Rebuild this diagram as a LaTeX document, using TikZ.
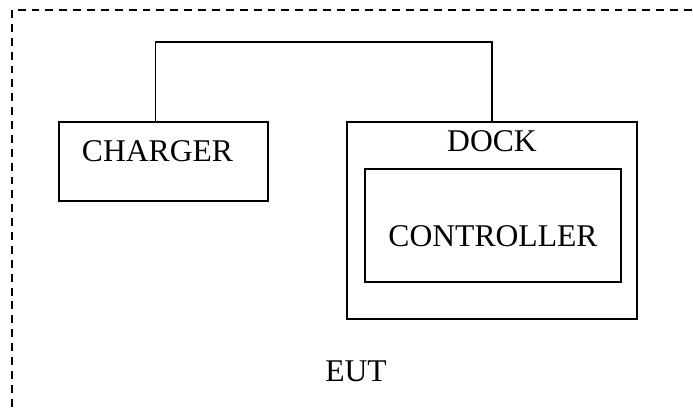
\documentclass[tikz,border=0pt]{standalone}
\usepackage{fontspec}
\setmainfont{Liberation Serif}
\usetikzlibrary{positioning}
\tikzset{unit/.style={draw=black,line width=.8pt,inner sep=0pt},tag/.style={font=\fontsize{18}{21}\selectfont,inner sep=0pt},wire/.style={draw=black,line width=.8pt},frame/.style={draw=black,line width=.8pt,dash pattern=on 4.5pt off 3.4pt}}

\begin{document}
\begin{tikzpicture}[x=.02cm,y=-.02cm]
        \useasboundingbox (0,0) rectangle (693,407);
        \clip (0,0) rectangle (693,407);
        \draw[frame] (12,10) rectangle (720,440);
        \node[unit,minimum width=209*.02cm,minimum height=79*.02cm] (charger) at (163.5,161.5){};
        \node[tag] (chargertext) at (157.5,151.5){CHARGER};
        \node[unit,minimum width=290*.02cm,minimum height=197*.02cm] (dock) at (492,220.5){};
        \node[tag] (docktext) at (492,141){DOCK};
        \node[unit,minimum width=256*.02cm,minimum height=113*.02cm] (ctrl) at (493,225.5){};
        \node[tag] (ctrltext) at (493,236.5){CONTROLLER};
        \node[tag] (eut) at (356,371){EUT};
        \coordinate (tap) at (155.7,122);
        \draw[wire] (tap) -- ++(0,-80) -| (dock.north);
      \end{tikzpicture}
\end{document}
